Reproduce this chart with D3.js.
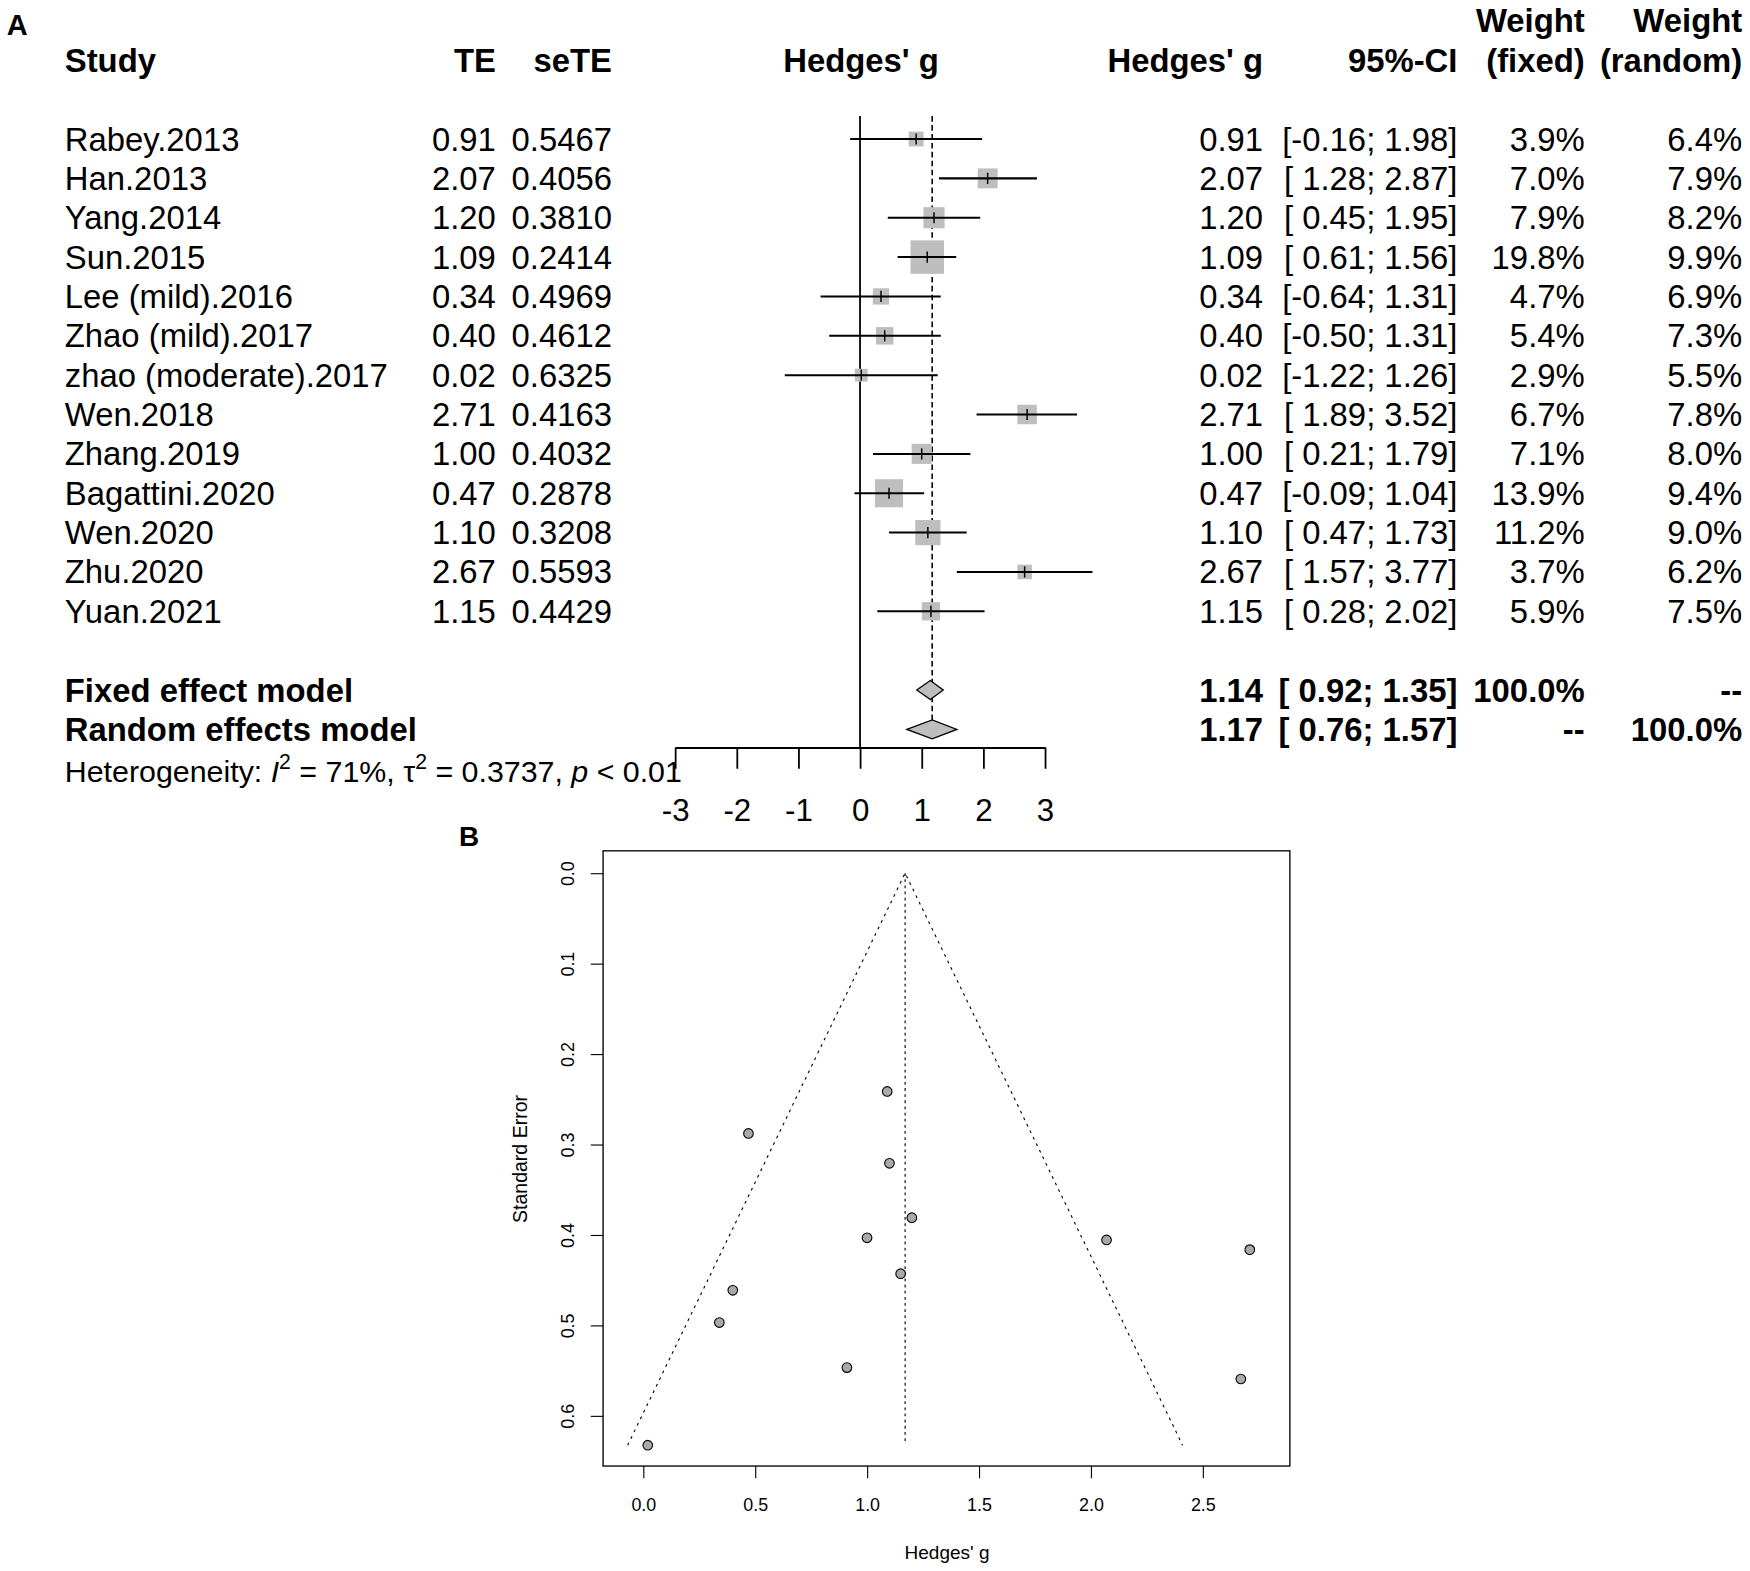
<!DOCTYPE html>
<html lang="en">
<head>
<meta charset="UTF-8">
<title>Forest and funnel plot</title>
<script src="https://d3js.org/d3.v7.min.js"></script>
<style>
    body { margin: 0; background: #fff; }
    svg { display: block; font-family: "Liberation Sans", Arial, sans-serif; }
    text { white-space: pre; }
    .bold { font-weight: bold; }
</style>
</head>
<body>
<svg id="chart" width="1750" height="1571" viewBox="0 0 1567 1407" preserveAspectRatio="none"></svg>
<script>
    // study level data
    const studies = ["Rabey.2013", "Han.2013", "Yang.2014", "Sun.2015", "Lee (mild).2016", "Zhao (mild).2017",
        "zhao (moderate).2017", "Wen.2018", "Zhang.2019", "Bagattini.2020", "Wen.2020", "Zhu.2020", "Yuan.2021"];
    const te = [0.91, 2.07, 1.20, 1.09, 0.34, 0.40, 0.02, 2.71, 1.00, 0.47, 1.10, 2.67, 1.15];
    const seTE = [0.5467, 0.4056, 0.3810, 0.2414, 0.4969, 0.4612, 0.6325, 0.4163, 0.4032, 0.2878, 0.3208, 0.5593, 0.4429];
    const ciLower = [-0.16, 1.28, 0.45, 0.61, -0.64, -0.50, -1.22, 1.89, 0.21, -0.09, 0.47, 1.57, 0.28];
    const ciUpper = [1.98, 2.87, 1.95, 1.56, 1.31, 1.31, 1.26, 3.52, 1.79, 1.04, 1.73, 3.77, 2.02];
    const weightFixed = [3.9, 7.0, 7.9, 19.8, 4.7, 5.4, 2.9, 6.7, 7.1, 13.9, 11.2, 3.7, 5.9];
    const weightRandom = [6.4, 7.9, 8.2, 9.9, 6.9, 7.3, 5.5, 7.8, 8.0, 9.4, 9.0, 6.2, 7.5];

    // pooled estimates
    const models = [
        { name: "Fixed effect model", est: 1.14, lo: 0.92, hi: 1.35, wf: "100.0%", wr: "--" },
        { name: "Random effects model", est: 1.17, lo: 0.76, hi: 1.57, wf: "--", wr: "100.0%" }
    ];

    const forestTicks = [-3, -2, -1, 0, 1, 2, 3];
    const funnelXTicks = [0, 0.5, 1, 1.5, 2, 2.5];
    const funnelYTicks = [0, 0.1, 0.2, 0.3, 0.4, 0.5, 0.6];

    const svg = d3.select("#chart");
    const fs = 29.4;
    const rowH = 35.25;
    const firstRow = 124.5;
    const rowY = i => firstRow + i * rowH;

    const fmt2 = d3.format(".2f");
    const num = v => fmt2(v).replace("\u2212", "-");
    const ciText = (lo, hi) => "[" + (lo < 0 ? num(lo) : " " + num(lo)) + "; " + num(hi) + "]";

    // ---------- panel A: forest plot ----------
    const A = svg.append("g");

    A.append("text").attr("class", "bold").attr("x", 6).attr("y", 22).attr("dy", "0.35em")
        .style("font-size", "26px").text("A");

    const x = d3.scaleLinear().domain([-3, 3]).range([604.5, 935.7]);

    // column headers
    const headY = rowY(-2), weightY = rowY(-3);
    const headers = [
        { t: "Study", x: 58, a: "start", y: headY },
        { t: "TE", x: 444, a: "end", y: headY },
        { t: "seTE", x: 548, a: "end", y: headY },
        { t: "Hedges' g", x: 771, a: "middle", y: headY },
        { t: "Hedges' g", x: 1131, a: "end", y: headY },
        { t: "95%-CI", x: 1305, a: "end", y: headY },
        { t: "Weight", x: 1419, a: "end", y: weightY },
        { t: "(fixed)", x: 1419, a: "end", y: headY },
        { t: "Weight", x: 1560, a: "end", y: weightY },
        { t: "(random)", x: 1560, a: "end", y: headY }
    ];
    A.selectAll(".head").data(headers).enter().append("text")
        .attr("class", "head bold")
        .attr("x", d => d.x).attr("y", d => d.y).attr("dy", "0.35em")
        .attr("text-anchor", d => d.a)
        .style("font-size", fs + "px")
        .text(d => d.t);

    // table columns for each study
    const cols = [
        { x: 58, a: "start", f: i => studies[i] },
        { x: 444, a: "end", f: i => num(te[i]) },
        { x: 548, a: "end", f: i => seTE[i].toFixed(4) },
        { x: 1131, a: "end", f: i => num(te[i]) },
        { x: 1305, a: "end", f: i => ciText(ciLower[i], ciUpper[i]) },
        { x: 1419, a: "end", f: i => weightFixed[i].toFixed(1) + "%" },
        { x: 1560, a: "end", f: i => weightRandom[i].toFixed(1) + "%" }
    ];
    cols.forEach(c => {
        A.append("g").selectAll("text").data(studies).enter().append("text")
            .attr("x", c.x).attr("y", (d, i) => rowY(i)).attr("dy", "0.35em")
            .attr("text-anchor", c.a)
            .style("font-size", fs + "px")
            .text((d, i) => c.f(i));
    });

    // pooled rows
    const modelCols = [
        { x: 58, a: "start", f: m => m.name },
        { x: 1131, a: "end", f: m => num(m.est) },
        { x: 1305, a: "end", f: m => ciText(m.lo, m.hi) },
        { x: 1419, a: "end", f: m => m.wf },
        { x: 1560, a: "end", f: m => m.wr }
    ];
    modelCols.forEach(c => {
        A.append("g").selectAll("text").data(models).enter().append("text")
            .attr("class", "bold")
            .attr("x", c.x).attr("y", (d, i) => rowY(14 + i)).attr("dy", "0.35em")
            .attr("text-anchor", c.a)
            .style("font-size", fs + "px")
            .text(d => c.f(d));
    });

    // heterogeneity line
    const het = A.append("text").attr("x", 58).attr("y", rowY(16) + 2).attr("dy", "0.35em")
        .style("font-size", "27.2px");
    het.append("tspan").text("Heterogeneity: ");
    het.append("tspan").style("font-style", "italic").text("I");
    het.append("tspan").attr("dy", -11).style("font-size", "19px").text("2");
    het.append("tspan").attr("dy", 11).text(" = 71%, ");
    het.append("tspan").text("\u03c4");
    het.append("tspan").attr("dy", -11).style("font-size", "19px").text("2");
    het.append("tspan").attr("dy", 11).text(" = 0.3737, ");
    het.append("tspan").style("font-style", "italic").text("p");
    het.append("tspan").text(" < 0.01");

    // reference lines
    const axisY = 669.5;
    A.append("line").attr("x1", x(0)).attr("x2", x(0)).attr("y1", 104).attr("y2", axisY)
        .attr("stroke", "#000").attr("stroke-width", 1.6);
    A.append("line").attr("x1", x(models[1].est)).attr("x2", x(models[1].est))
        .attr("y1", 104).attr("y2", rowY(15))
        .attr("stroke", "#000").attr("stroke-width", 1.4).attr("stroke-dasharray", "5,3");

    // squares sized by fixed weight
    const side = d3.scaleSqrt().domain([0, d3.max(weightFixed)]).range([0, 30]);
    A.append("g").selectAll("rect").data(te).enter().append("rect")
        .attr("x", (d, i) => x(d) - side(weightFixed[i]) / 2)
        .attr("y", (d, i) => rowY(i) - side(weightFixed[i]) / 2)
        .attr("width", (d, i) => side(weightFixed[i]))
        .attr("height", (d, i) => side(weightFixed[i]))
        .attr("fill", "#bebebe");

    // confidence intervals
    A.append("g").selectAll("line").data(te).enter().append("line")
        .attr("x1", (d, i) => x(ciLower[i])).attr("x2", (d, i) => x(ciUpper[i]))
        .attr("y1", (d, i) => rowY(i)).attr("y2", (d, i) => rowY(i))
        .attr("stroke", "#000").attr("stroke-width", 1.8);
    A.append("g").selectAll("line").data(te).enter().append("line")
        .attr("x1", d => x(d)).attr("x2", d => x(d))
        .attr("y1", (d, i) => rowY(i) - 5).attr("y2", (d, i) => rowY(i) + 5)
        .attr("stroke", "#000").attr("stroke-width", 1.3);

    // diamonds
    A.append("g").selectAll("path").data(models).enter().append("path")
        .attr("d", (m, i) => {
            const y = rowY(14 + i), h = 8.5;
            return `M${x(m.lo)},${y}L${x(m.est)},${y - h}L${x(m.hi)},${y}L${x(m.est)},${y + h}Z`;
        })
        .attr("fill", "#bebebe").attr("stroke", "#000").attr("stroke-width", 1.2);

    // axis
    const fAxis = A.append("g").attr("transform", `translate(0,${axisY})`)
        .call(d3.axisBottom(x).tickValues(forestTicks).tickSize(19).tickSizeOuter(0)
            .tickPadding(27).tickFormat(d => String(d)));
    fAxis.select(".domain").attr("stroke-width", 1.8);
    fAxis.selectAll(".tick line").attr("stroke-width", 1.6);
    fAxis.selectAll("text").style("font-size", "28px").style("font-family", "Liberation Sans, Arial, sans-serif");

    // ---------- panel B: funnel plot ----------
    const B = svg.append("g");
    B.append("text").attr("class", "bold").attr("x", 411).attr("y", 749).attr("dy", "0.35em")
        .style("font-size", "25px").text("B");

    const box = { left: 540, right: 1155, top: 762, bottom: 1313 };
    const fx = d3.scaleLinear().domain([0, 2.5]).range([576, 1077]);
    const fy = d3.scaleLinear().domain([0, 0.6]).range([782, 1268]);

    B.append("rect").attr("x", box.left).attr("y", box.top)
        .attr("width", box.right - box.left).attr("height", box.bottom - box.top)
        .attr("fill", "none").attr("stroke", "#000").attr("stroke-width", 1.2);

    // funnel around the random effects estimate
    const centre = models[1].est;
    const seMax = d3.max(seTE);
    const funnel = [[centre - 1.96 * seMax, seMax], [centre, 0], [centre + 1.96 * seMax, seMax]];
    B.append("path")
        .attr("d", d3.line().x(d => fx(d[0])).y(d => fy(d[1]))(funnel))
        .attr("fill", "none").attr("stroke", "#000").attr("stroke-width", 1)
        .attr("stroke-dasharray", "2.5,4");
    B.append("line").attr("x1", fx(centre)).attr("x2", fx(centre))
        .attr("y1", fy(0)).attr("y2", fy(seMax) - 3)
        .attr("stroke", "#000").attr("stroke-width", 1).attr("stroke-dasharray", "2.5,3");

    B.append("g").selectAll("circle").data(te).enter().append("circle")
        .attr("cx", d => fx(d)).attr("cy", (d, i) => fy(seTE[i]))
        .attr("r", 4.3)
        .attr("fill", "#a9a9a9").attr("stroke", "#000").attr("stroke-width", 1);

    const xAx = B.append("g").attr("transform", `translate(0,${box.bottom})`)
        .call(d3.axisBottom(fx).tickValues(funnelXTicks).tickSize(11).tickPadding(18)
            .tickFormat(d3.format(".1f")));
    xAx.select(".domain").remove();
    xAx.selectAll("text").style("font-size", "16px").style("font-family", "Liberation Sans, Arial, sans-serif");

    const yAx = B.append("g").attr("transform", `translate(${box.left},0)`)
        .call(d3.axisLeft(fy).tickValues(funnelYTicks).tickSize(11).tickFormat(d3.format(".1f")));
    yAx.select(".domain").remove();
    yAx.selectAll("text")
        .attr("x", 0).attr("dy", null)
        .attr("text-anchor", "middle")
        .attr("transform", "translate(-26,0) rotate(-90)")
        .style("font-size", "16px").style("font-family", "Liberation Sans, Arial, sans-serif");

    B.append("text").attr("x", 848).attr("y", 1390).attr("dy", "0.35em")
        .attr("text-anchor", "middle").style("font-size", "17px").text("Hedges' g");
    B.append("text").attr("transform", "translate(472,1038) rotate(-90)")
        .attr("text-anchor", "middle").style("font-size", "17.5px").text("Standard Error");
</script>
</body>
</html>
